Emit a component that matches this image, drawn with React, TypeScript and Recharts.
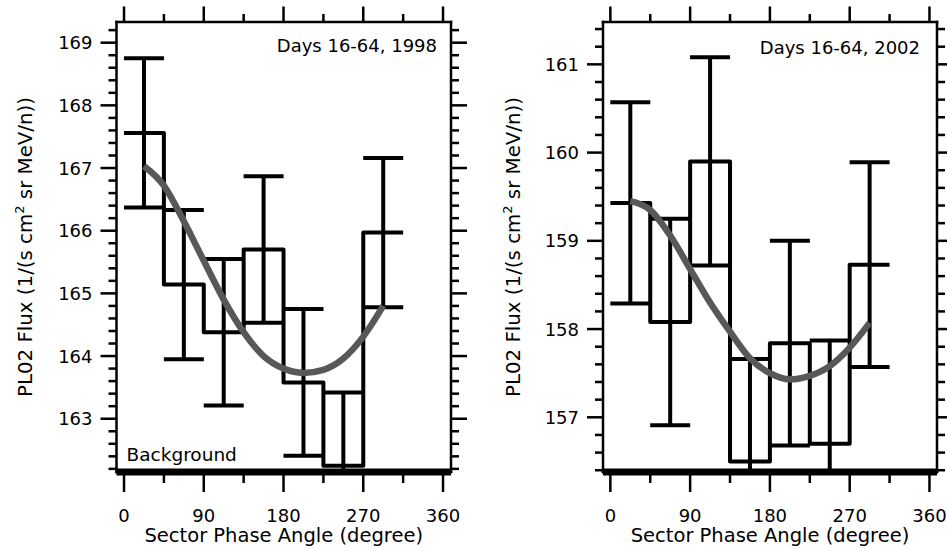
import React from 'react';
import {
  ComposedChart,
  Line,
  ErrorBar,
  XAxis,
  YAxis,
  ReferenceLine,
  Label,
} from 'recharts';

// sector phase angle bins (degree)
const binEdges = [0, 45, 90, 135, 180, 225, 270, 315];
const binCenters = [22.5, 67.5, 112.5, 157.5, 202.5, 247.5, 292.5];
const fitAngles = [22.5, 45, 67.5, 90, 112.5, 135, 157.5, 180, 202.5, 225, 247.5, 270, 292.5];

// Days 16-64, 1998
const flux1998 = [167.56, 165.14, 164.38, 165.7, 163.58, 162.25, 165.97];
const err1998 = [1.19, 1.19, 1.17, 1.17, 1.17, 1.17, 1.19];
const fit1998 = [167.03, 166.72, 166.15, 165.52, 164.9, 164.38, 164.0, 163.8, 163.73, 163.78, 163.96, 164.31, 164.8];
const background1998 = 162.15;

// Days 16-64, 2002
const flux2002 = [159.43, 158.08, 159.9, 156.5, 157.84, 156.7, 158.73];
const err2002 = [1.14, 1.17, 1.18, 1.16, 1.16, 1.17, 1.16];
const fit2002 = [159.45, 159.35, 159.06, 158.68, 158.3, 157.97, 157.67, 157.5, 157.43, 157.47, 157.58, 157.79, 158.07];
const background2002 = 156.38;

const xTickLabels = [0, 90, 180, 270, 360];
const xMinorTicks = [45, 135, 225, 315];
const yTickLabels1998 = [163, 164, 165, 166, 167, 168, 169];
const yTickLabels2002 = [157, 158, 159, 160, 161];

const FONT = '"DejaVu Sans", Verdana, sans-serif';
const INK = '#000';
const CURVE = '#585858';
const H = 550;

// minor ticks every 0.2 between the labelled ones
function withMinor(labels: number[], below: number, above: number) {
  const out: number[] = [];
  const start = labels[0] - below;
  const end = labels[labels.length - 1] + above;
  for (let v = start; v <= end + 1e-9; v += 0.2) out.push(Math.round(v * 10) / 10);
  return out;
}

function XTick(props: any) {
  const { x, y, payload, down } = props;
  const major = xTickLabels.includes(payload.value);
  const len = down ? (major ? 20 : 11) : major ? 15.5 : 8;
  return (
    <g>
      <line x1={x} x2={x} y1={y} y2={down ? y + len : y - len} stroke={INK} strokeWidth={2.5} />
      {down && major && (
        <text x={x} y={y + 50} textAnchor="middle" fontSize={18} fontFamily={FONT} fill={INK}>
          {payload.value}
        </text>
      )}
    </g>
  );
}

function YTick(props: any) {
  const { x, y, payload, left } = props;
  const v = payload.value;
  const major = Math.abs(v - Math.round(v)) < 1e-6;
  const len = major ? 16 : 8;
  return (
    <g>
      <line x1={x} x2={left ? x - len : x + len} y1={y} y2={y} stroke={INK} strokeWidth={2.5} />
      {left && major && (
        <text x={x - 24} y={y + 6.5} textAnchor="end" fontSize={18} fontFamily={FONT} fill={INK}>
          {Math.round(v)}
        </text>
      )}
    </g>
  );
}

const xTitle = (props: any) => {
  const vb = props.viewBox || {};
  const cx = vb.x + vb.width / 2;
  return (
    <text x={cx} y={vb.y + 70} textAnchor="middle" fontSize={19.5} fontFamily={FONT} fill={INK}>
      Sector Phase Angle (degree)
    </text>
  );
};

const yTitle = (tx: number) => (props: any) => {
  const vb = props.viewBox || {};
  const cy = vb.height ? vb.y + vb.height / 2 : 247;
  return (
    <text
      x={tx}
      y={cy}
      transform={`rotate(-90, ${tx}, ${cy})`}
      textAnchor="middle"
      fontSize={19.8}
      fontFamily={FONT}
      fill={INK}
    >
      PL02 Flux (1/(s cm<tspan dy={-8} fontSize={13}>2</tspan>
      <tspan dy={8}> sr MeV/n))</tspan>
    </text>
  );
};

type PanelProps = {
  left: number;
  width: number;
  axisLeft: number;
  axisRight: number;
  xDomain: [number, number];
  yDomain: [number, number];
  flux: number[];
  err: number[];
  fit: number[];
  background: number;
  yTicks: number[];
  title: string;
  titleX: number;
  annRight: number;
  annDrop: number;
  bgLabel?: boolean;
};

function Panel(p: PanelProps) {
  const histData = binEdges.map((x, i) => ({ x, y: p.flux[Math.min(i, p.flux.length - 1)] }));
  const barData = binCenters.map((x, i) => ({ x, y: p.flux[i], err: p.err[i] }));
  const fitData = fitAngles.map((x, i) => ({ x, y: p.fit[i] }));
  const xTicks = [...xTickLabels, ...xMinorTicks].sort((a, b) => a - b);
  const frame = { stroke: INK, strokeWidth: 2.5, strokeLinecap: 'square' as const };
  const yMin = p.yDomain[0];
  // lower whisker stops at the bottom of the frame, like the original plot
  const whisker = (d: any) => [Math.min(d.err, d.y - yMin), d.err];

  return (
    <div style={{ position: 'absolute', left: p.left, top: 0 }}>
      <ComposedChart width={p.width} height={H} margin={{ top: 0, right: 0, bottom: 0, left: 0 }}>
        <XAxis
          xAxisId="b"
          type="number"
          dataKey="x"
          domain={p.xDomain}
          allowDataOverflow
          ticks={xTicks}
          interval={0}
          tickSize={0}
          tickMargin={0}
          height={78}
          axisLine={frame}
          tickLine={false}
          tick={(t: any) => <XTick {...t} down />}
        >
          <Label content={xTitle} />
        </XAxis>
        <XAxis
          xAxisId="t"
          orientation="top"
          type="number"
          dataKey="x"
          domain={p.xDomain}
          allowDataOverflow
          ticks={xTicks}
          interval={0}
          tickSize={0}
          tickMargin={0}
          height={22}
          axisLine={frame}
          tickLine={false}
          tick={(t: any) => <XTick {...t} />}
        />
        <YAxis
          yAxisId="l"
          type="number"
          dataKey="y"
          domain={p.yDomain}
          allowDataOverflow
          ticks={p.yTicks}
          interval={0}
          tickSize={0}
          tickMargin={0}
          width={p.axisLeft}
          axisLine={frame}
          tickLine={false}
          tick={(t: any) => <YTick {...t} left />}
        >
          <Label content={yTitle(p.titleX)} />
        </YAxis>
        <YAxis
          yAxisId="r"
          orientation="right"
          type="number"
          dataKey="y"
          domain={p.yDomain}
          allowDataOverflow
          ticks={p.yTicks}
          interval={0}
          tickSize={0}
          tickMargin={0}
          width={p.axisRight}
          axisLine={frame}
          tickLine={false}
          tick={(t: any) => <YTick {...t} />}
        />

        {/* binned means as a step histogram */}
        <Line
          xAxisId="b"
          yAxisId="l"
          data={histData}
          dataKey="y"
          type="stepAfter"
          stroke={INK}
          strokeWidth={4}
          strokeLinejoin="round"
          dot={false}
          activeDot={false}
          isAnimationActive={false}
        />
        {/* error bars, caps as wide as a bin */}
        <Line
          xAxisId="b"
          yAxisId="l"
          data={barData}
          dataKey="y"
          stroke="none"
          dot={false}
          activeDot={false}
          isAnimationActive={false}
        >
          <ErrorBar dataKey={whisker} direction="y" width={20} stroke={INK} strokeWidth={4} />
        </Line>
        {/* fitted curve */}
        <Line
          xAxisId="b"
          yAxisId="l"
          data={fitData}
          dataKey="y"
          type="monotone"
          stroke={CURVE}
          strokeWidth={6.5}
          dot={false}
          activeDot={false}
          isAnimationActive={false}
        />

        <ReferenceLine
          xAxisId="b"
          yAxisId="l"
          y={p.background}
          stroke={INK}
          strokeWidth={7}
          label={
            p.bgLabel
              ? (lp: any) => (
                  <text
                    x={lp.viewBox.x + 10}
                    y={lp.viewBox.y - 11}
                    fontSize={18.5}
                    fontFamily={FONT}
                    fill={INK}
                  >
                    Background
                  </text>
                )
              : undefined
          }
        />
        <ReferenceLine
          xAxisId="b"
          yAxisId="l"
          y={p.yDomain[1]}
          stroke="none"
          label={(lp: any) => (
            <text
              x={lp.viewBox.x + lp.viewBox.width - p.annRight}
              y={lp.viewBox.y + p.annDrop}
              textAnchor="end"
              fontSize={18}
              fontFamily={FONT}
              fill={INK}
            >
              {p.title}
            </text>
          )}
        />
      </ComposedChart>
    </div>
  );
}

export default function App() {
  return (
    <div
      style={{
        position: 'absolute',
        left: 0,
        top: 0,
        width: 947,
        height: H,
        background: '#fff',
        overflow: 'hidden',
      }}
    >
      <Panel
        left={0}
        width={475}
        axisLeft={116.5}
        axisRight={24}
        xDomain={[-8.5, 369]}
        yDomain={[162.15, 169.33]}
        flux={flux1998}
        err={err1998}
        fit={fit1998}
        background={background1998}
        yTicks={withMinor(yTickLabels1998, 0.8, 0.2)}
        title="Days 16-64, 1998"
        titleX={32}
        annRight={14}
        annDrop={30}
        bgLabel
      />
      <Panel
        left={475}
        width={472}
        axisLeft={128}
        axisRight={10}
        xDomain={[-8.3, 368.5]}
        yDomain={[156.38, 161.48]}
        flux={flux2002}
        err={err2002}
        fit={fit2002}
        background={background2002}
        yTicks={withMinor(yTickLabels2002, 0.6, 0.4)}
        title="Days 16-64, 2002"
        titleX={44.7}
        annRight={17}
        annDrop={32}
      />
    </div>
  );
}
